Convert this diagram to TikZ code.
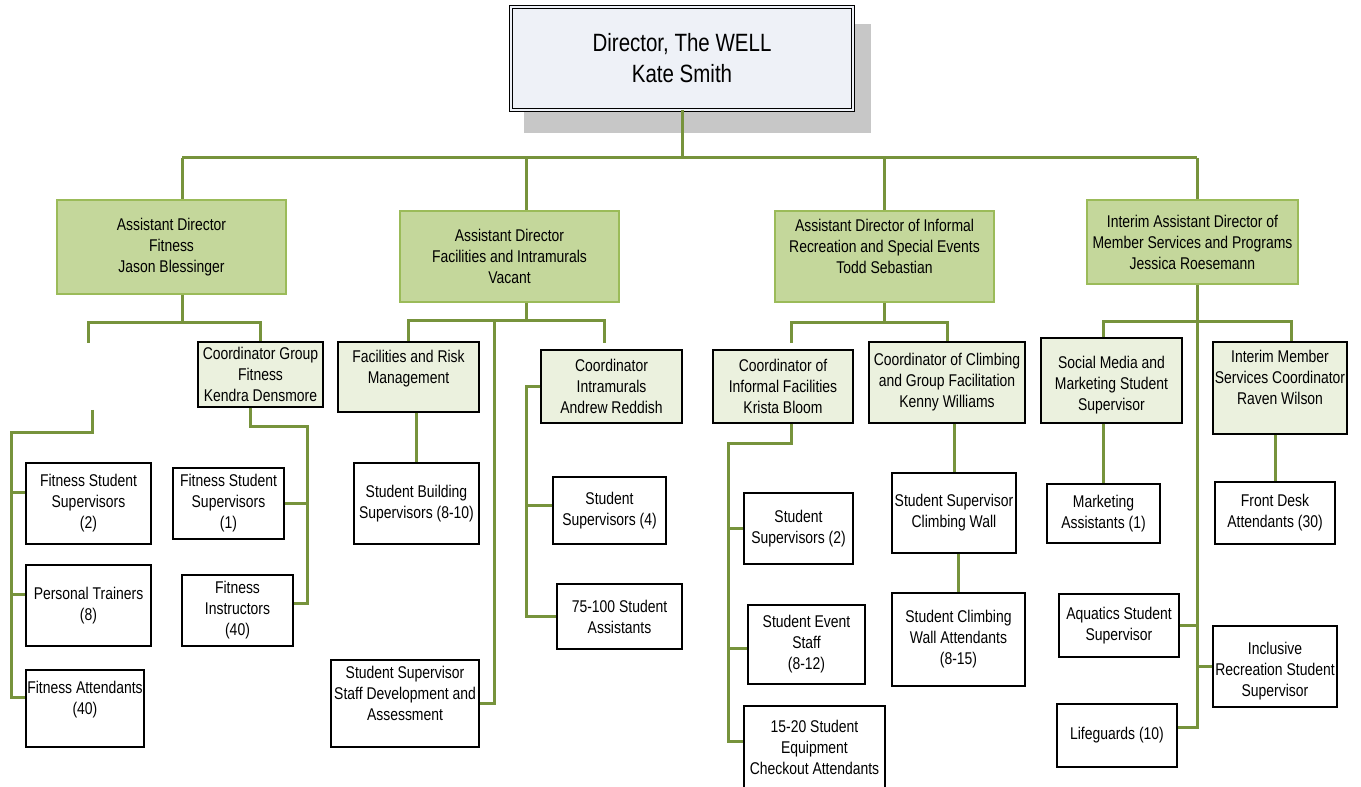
\documentclass[tikz,border=0pt]{standalone}
\usepackage{fontspec}
\setmainfont{Liberation Sans}[FakeStretch=0.82]
\usepackage{tikz}
\definecolor{linkgreen}{HTML}{77933C}
\definecolor{adfill}{HTML}{C4D79B}
\definecolor{adedge}{HTML}{9BBB59}
\definecolor{cofill}{HTML}{EBF1DE}
\definecolor{dirfill}{HTML}{EEF1F7}
\tikzset{
  link/.style={draw=linkgreen, line width=2.25pt},
  sz/.style 2 args={minimum width=#1*0.75pt, minimum height=#2*0.75pt},
  adbox/.style={draw=adedge, fill=adfill, line width=1pt, align=center, inner sep=1pt},
  cobox/.style={draw=black, fill=cofill, line width=0.9pt, align=center, inner sep=1pt},
  stbox/.style={draw=black, fill=white, line width=0.9pt, align=center, inner sep=1pt},
}

\begin{document}
\begin{tikzpicture}[x=0.75pt, y=-0.75pt, font=\fontsize{12.75pt}{15.75pt}\selectfont]
\useasboundingbox (0,0) rectangle (1361,787);
%\draw[help lines, color=gray!30, dashed] (0,0) grid[step=50] (1361,787);
\fill[black!22] (524,24) rectangle (871,133);
\node[draw=black, double=dirfill, double distance=1.5pt, line width=0.7pt, fill=dirfill, sz={342}{103}, align=center,
  font=\fontsize{18.75pt}{23.25pt}\selectfont] (dir) at (682,58.5) {Director, The WELL\\Kate Smith};

% assistant directors
\node[adbox, sz={229}{94}] (fad) at (171.5,247) {Assistant Director\\Fitness\\Jason Blessinger};
\node[adbox, sz={219}{91}] (fac) at (509.5,256.5) {Assistant Director\\Facilities and Intramurals\\Vacant};
\node[adbox, sz={219}{91}] (inf) at (884.5,256.5) {Assistant Director of Informal\\Recreation and Special Events\\Todd Sebastian\\\mbox{}};
\node[adbox, sz={211}{84}] (mad) at (1192.5,242) {Interim Assistant Director of\\Member Services and Programs\\Jessica Roesemann};

% fitness
\node[cobox, sz={125}{65}] (cg) at (260.5,374.5) {Coordinator Group\\Fitness\\Kendra Densmore};
\node[stbox, sz={125}{81}] (fss2) at (88.5,503.5) {Fitness Student\\Supervisors\\(2)};
\node[stbox, sz={125}{81}] (ptr) at (88.5,605.5) {Personal Trainers\\(8)};
\node[stbox, sz={118}{77}] (fatt) at (85,708.5) {Fitness Attendants\\(40)\\\mbox{}};
\node[stbox, sz={111}{71}] (fss1) at (228.5,503.5) {Fitness Student\\Supervisors\\(1)};
\node[stbox, sz={111}{71}] (finst) at (237.5,610.5) {Fitness\\Instructors\\(40)};

% facilities and intramurals
\node[cobox, sz={141}{70}] (frm) at (408.5,377) {Facilities and Risk\\Management\\\mbox{}};
\node[stbox, sz={125}{81}] (sbs) at (416.5,503.5) {Student Building\\Supervisors (8-10)};
\node[stbox, sz={148}{87}] (ssd) at (405,703.5) {Student Supervisor\\Staff Development and\\Assessment\\\mbox{}};
\node[cobox, sz={141}{73}] (ci) at (611.5,386.5) {Coordinator\\Intramurals\\Andrew Reddish};
\node[stbox, sz={113}{67}] (ss4) at (609.5,510.5) {Student\\Supervisors (4)};
\node[stbox, sz={125}{65}] (sa) at (619.5,616.5) {75-100 Student\\Assistants};

% informal recreation
\node[cobox, sz={140}{73}] (kb) at (783,386.5) {Coordinator of\\Informal Facilities\\Krista Bloom};
\node[cobox, sz={156}{81}] (kw) at (947,382.5) {Coordinator of Climbing\\and Group Facilitation\\Kenny Williams};
\node[stbox, sz={109}{71}] (ss2) at (798.5,528.5) {Student\\Supervisors (2)};
\node[stbox, sz={117}{79}] (ses) at (806.5,644.5) {Student Event\\Staff\\(8-12)};
\node[stbox, sz={141}{82}] (eca) at (814.5,747) {15-20 Student\\Equipment\\Checkout Attendants};
\node[stbox, sz={124}{80}] (ssc) at (954,513) {Student Supervisor\\Climbing Wall};
\node[stbox, sz={133}{93}] (scw) at (958.5,639.5) {Student Climbing\\Wall Attendants\\(8-15)};

% member services
\node[cobox, sz={141}{85}] (sm) at (1111.5,380.5) {\mbox{}\\Social Media and\\Marketing Student\\Supervisor};
\node[cobox, sz={134}{92}] (ims) at (1280,388) {Interim Member\\Services Coordinator\\Raven Wilson\\\mbox{}};
\node[stbox, sz={113}{59}] (ma) at (1103.5,513.5) {Marketing\\Assistants (1)};
\node[stbox, sz={120}{62}] (fda) at (1275,513) {Front Desk\\Attendants (30)};
\node[stbox, sz={120}{63}] (aq) at (1119,625.5) {Aquatics Student\\Supervisor};
\node[stbox, sz={124}{81}] (irs) at (1275,666.5) {\mbox{}\\Inclusive\\Recreation Student\\Supervisor};
\node[stbox, sz={120}{63}] (lg) at (1117,735.5) {Lifeguards (10)};

% top level lines
\coordinate (b1) at (182,158);
\coordinate (b2) at (526,158);
\coordinate (b3) at (884,158);
\coordinate (b4) at (1197,158);
\draw[link] (dir.south) -- (dir.south |- b1);
\draw[link] (b1) -- (b4);
\draw[link] (b1) -- (b1 |- fad.north);
\draw[link] (b2) -- (b2 |- fac.north);
\draw[link] (b3) -- (b3 |- inf.north);
\draw[link] (b4) -- (b4 |- mad.north);

% fitness lines
\coordinate (f1) at (182,323);
\coordinate (fvac) at (88,343);
\coordinate (ftop) at (92,410);
\coordinate (fcol) at (11,433);
\coordinate (g1) at (250,427);
\coordinate (gcol) at (307,427);
\draw[link] (f1 |- fad.south) -- (f1);
\draw[link] (fvac) |- (f1) -| (cg.north);
\draw[link] (ftop) |- (fcol) |- ([yshift=8pt]fatt.west);
\draw[link] ([yshift=8pt]fss2.west) -| (fcol);
\draw[link] ([yshift=8pt]ptr.west) -| (fcol);
\draw[link] (g1 |- cg.south) -- (g1) -- (gcol) |- ([yshift=5pt]finst.east);
\draw[link] (fss1.east) -| (gcol);

% facilities lines
\coordinate (c1) at (526,321);
\coordinate (c2) at (494,321);
\coordinate (cfree) at (604,343);
\coordinate (icol) at (526,390);
\draw[link] (c1 |- fac.south) -- (c1);
\draw[link] (frm.north) |- (c1) -| (cfree);
\draw[link] (c2) |- (ssd.east);
\draw[link] (sbs.north |- frm.south) -- (sbs.north);
\draw[link] (ci.west) -| (icol) |- (sa.west);
\draw[link] ([yshift=4pt]ss4.west) -| (icol);

% informal recreation lines
\coordinate (k1) at (884,323);
\coordinate (kfree) at (791,343);
\coordinate (kcol) at (728,444);
\draw[link] (k1 |- inf.south) -- (k1);
\draw[link] (kfree) |- (k1) -| (kw.north);
\draw[link] (kfree |- kb.south) |- (kcol) |- ([yshift=4pt]eca.west);
\draw[link] (ss2.west) -| (kcol);
\draw[link] ([yshift=-3pt]ses.west) -| (kcol);
\draw[link] (ssc.north |- kw.south) -- (ssc.north);
\draw[link] (scw.north |- ssc.south) -- (scw.north);

% member services lines
\coordinate (m1) at (1197,322);
\coordinate (mL) at (1103,322);
\coordinate (mR) at (1291,322);
\draw[link] (m1 |- mad.south) |- ([yshift=6pt]lg.east);
\draw[link] (mL |- sm.north) -- (mL) -- (mR) -- (mR |- ims.north);
\draw[link] (ma.north |- sm.south) -- (ma.north);
\draw[link] (fda.north |- ims.south) -- (fda.north);
\draw[link] (aq.east) -| (m1);
\draw[link] (irs.west) -| (m1);
\end{tikzpicture}
\end{document}
